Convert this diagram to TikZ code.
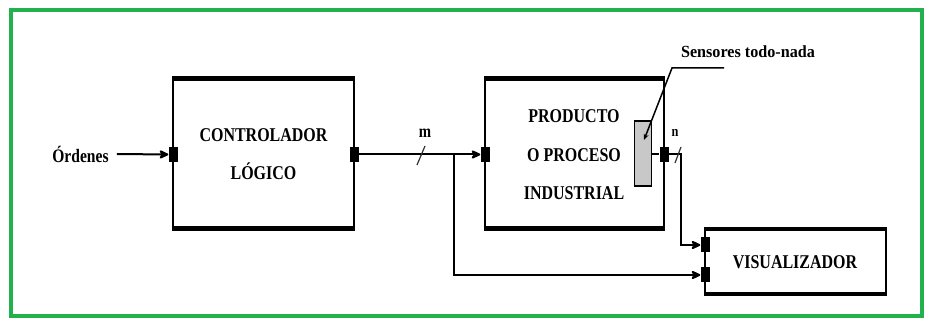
\documentclass[tikz,border=0pt]{standalone}
\usepackage{fontspec}
\setmainfont{Liberation Serif}
\newfontfamily\lblfont{Liberation Serif}[FakeStretch=0.82]
\newfontfamily\sensfont{Liberation Serif}[FakeStretch=0.95]
\usetikzlibrary{arrows.meta}
\definecolor{frameGreen}{RGB}{34,177,76}
\definecolor{sensGray}{RGB}{200,200,200}
\tikzset{
  blockbox/.style={draw=black, line width=2.5pt, fill=white, inner sep=0pt, outer sep=0pt},
  boxedge/.style={line width=4.5pt, line cap=butt},
  portbox/.style={fill=black, draw=none, minimum width=9pt, minimum height=15pt, inner sep=0pt},
  vportbox/.style={fill=black, draw=none, minimum width=9pt, minimum height=15pt, inner sep=0pt},
  conn/.style={line width=2pt},
  arr/.style={conn, -{Stealth[length=12pt,width=11pt,inset=4pt,round]}},
  blocktext/.style={font=\lblfont\bfseries\fontsize{19.5}{38.5}\selectfont, align=center, inner sep=0pt},
  slashline/.style={line width=1.2pt, black!80},
}
\begin{document}
\begin{tikzpicture}[x=1pt, y=-1pt]
\useasboundingbox (0,0) rectangle (927,320);
\fill[white] (0,0) rectangle (927,320);
\draw[frameGreen, line width=4.5pt] (11,10) rectangle (922,316);

% blocks
\node[blockbox, minimum width=181pt, minimum height=150pt] (ctrl) at (263.5,153.5) {};
\node[blockbox, minimum width=179pt, minimum height=150pt] (proc) at (574.5,153.5) {};
\node[blockbox, minimum width=181pt, minimum height=65pt] (vis) at (795.5,261.5) {};
\foreach \b in {ctrl,proc,vis}{
  \draw[boxedge] ([xshift=-1.25pt]\b.north west) -- ([xshift=1.25pt]\b.north east);
  \draw[boxedge] ([xshift=-1.25pt]\b.south west) -- ([xshift=1.25pt]\b.south east);
}

% texts
\node[blocktext] (ctxt) at (263.5,154) {CONTROLADOR\\LÓGICO};
\node[blocktext] (ptxt) at (574,155) {PRODUCTO\\O PROCESO\\INDUSTRIAL};
\node[blocktext] (vtxt) at (795,262) {VISUALIZADOR};
\node[font=\lblfont\bfseries\fontsize{19}{19}\selectfont, inner sep=0pt] (ord) at (80.5,154) {Órdenes};
\node[font=\sensfont\bfseries\fontsize{17}{17}\selectfont, inner sep=0pt] (senstxt) at (748,52) {Sensores todo-nada};
\node[font=\lblfont\bfseries\fontsize{18}{18}\selectfont, inner sep=0pt] (mlbl) at (425,133) {m};
\node[font=\lblfont\bfseries\fontsize{15}{15}\selectfont, inner sep=0pt] (nlbl) at (675,133) {n};

% sensor
\node[draw=black, line width=1.8pt, fill=sensGray, minimum width=17pt, minimum height=65pt, inner sep=0pt] (sens) at (643,153.5) {};

% ports
\node[portbox] (cin) at (ctrl.west |- 0,154.5) {};
\node[portbox] (cout) at (ctrl.east |- 0,154.5) {};
\node[portbox] (pin) at (proc.west |- 0,154.5) {};
\node[portbox] (pout) at (proc.east |- 0,154.5) {};
\node[vportbox] (vin1) at (vis.west |- 0,245) {};
\node[vportbox] (vin2) at (vis.west |- 0,275) {};

% coordinates
\coordinate (br) at (454,154.5);
\coordinate (nk) at (681,154.5);
\coordinate (ls) at (724,68);
\coordinate (lk) at (672,68);
\coordinate (le) at (644,140);

% connectors
\draw[arr] ([xshift=8pt]ord.east) -- (cin.west);
\draw[arr] (cout.east) -- (pin.west);
\draw[arr] (br) |- (vin2.west);
\draw[conn] (sens.east |- pout) -- (pout.west);
\draw[arr] (pout.east) -- (nk) |- (vin1.west);
\draw[line width=1.5pt, -{Stealth[length=6pt,width=5pt]}] (ls) -- (lk) -- (le);

% bus slashes
\draw[slashline] (417,165) -- (425,146);
\draw[slashline] (675,163) -- (681,147);
\end{tikzpicture}
\end{document}
